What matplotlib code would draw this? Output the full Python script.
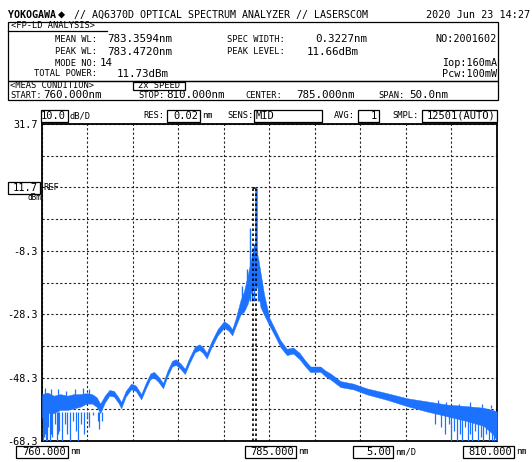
import matplotlib
matplotlib.use('Agg')
import matplotlib.pyplot as plt
from matplotlib.patches import Rectangle

# spectrum band (upper / lower edge of the trace, dBm)
wl = [760.0, 760.6, 761.3, 762.0, 762.8, 763.5, 764.2, 764.9, 765.5, 766.0,
      766.4, 766.9, 767.4, 767.9, 768.4, 768.7, 769.2, 769.8, 770.3, 770.9,
      771.4, 771.9, 772.3, 772.8, 773.3, 773.8, 774.3, 774.7, 775.2, 775.7,
      776.2, 776.8, 777.3, 777.7, 778.1, 778.6, 779.3, 780.0, 780.5, 780.9,
      781.3, 781.8, 782.2, 782.6, 782.9, 783.2, 783.47, 783.7, 784.0, 784.4,
      785.0, 785.6, 786.2, 786.9, 787.6, 788.3, 788.9, 789.5, 790.0, 790.6,
      791.1, 791.7, 792.8, 794.2, 795.7, 797.9, 800.1, 802.3, 804.5, 806.7,
      808.5, 809.5, 810.0]
lvl_hi = [-53.5, -53.0, -54.0, -53.5, -54.0, -53.5, -53.5, -53.2, -53.5, -54.5,
          -56.5, -54.0, -52.2, -52.5, -54.5, -56.0, -52.5, -50.2, -50.8, -53.5,
          -50.0, -47.0, -46.5, -48.0, -50.0, -46.0, -43.0, -42.5, -43.8, -45.5,
          -42.0, -38.5, -37.8, -38.8, -40.5, -37.0, -33.0, -30.5, -31.5, -33.0,
          -29.5, -24.0, -21.0, -16.0, -12.0, -8.0, -6.0, -10.0, -15.0, -22.0,
          -29.5, -33.0, -36.5, -39.2, -38.8, -40.5, -42.8, -44.8, -44.8, -44.8,
          -46.0, -47.0, -49.4, -50.2, -51.7, -53.2, -54.8, -55.8, -56.8, -57.3,
          -57.8, -58.5, -59.0]
lvl_lo = [-61.0, -59.5, -59.5, -58.5, -58.5, -58.0, -57.5, -56.5, -56.5, -57.5,
          -59.5, -56.2, -54.0, -54.3, -56.3, -58.0, -54.3, -52.0, -52.5, -55.2,
          -51.8, -48.8, -48.3, -49.7, -51.7, -47.8, -44.8, -44.3, -45.5, -47.2,
          -43.8, -40.3, -39.6, -40.6, -42.3, -38.9, -35.0, -32.6, -33.5, -35.0,
          -32.0, -28.5, -27.5, -25.0, -22.0, -20.0, -18.0, -20.0, -26.0, -28.5,
          -32.0, -35.2, -38.7, -41.2, -40.7, -42.5, -44.7, -46.6, -46.5, -46.5,
          -47.8, -48.9, -51.3, -52.0, -53.6, -55.3, -57.3, -59.0, -60.5, -62.0,
          -63.5, -66.0, -68.3]

# noise dips at both ends of the span
dip_wl = [760.1, 760.2, 760.3, 760.45, 760.6, 760.7, 760.85, 761.0, 761.1, 761.4,
          761.6, 761.75, 761.9, 762.2, 762.5, 762.8, 763.1, 763.4, 763.7, 764.0,
          764.3, 764.6, 764.9, 765.2, 765.6, 766.1, 766.3, 766.6,
          803.2, 803.8, 804.3, 804.7, 805.0, 805.3, 805.6, 805.9, 806.2, 806.5,
          806.8, 807.0, 807.3, 807.6, 807.9, 808.2, 808.5, 808.8, 809.1, 809.4,
          809.7]
dip_lvl = [-68.3, -67.0, -66.0, -68.3, -68.3, -64.0, -68.3, -66.0, -67.0, -63.0,
           -68.3, -66.0, -65.0, -68.3, -63.0, -66.0, -68.3, -62.0, -65.0, -68.3,
           -63.0, -66.0, -61.0, -64.0, -60.0, -62.0, -64.5, -62.0,
           -63.0, -64.0, -66.0, -63.0, -68.3, -65.0, -68.3, -66.0, -68.3, -64.0,
           -68.3, -66.0, -68.3, -65.0, -68.3, -67.0, -68.3, -66.0, -68.3, -68.3,
           -68.3]

# upward noise spikes at both ends
spike_wl = [760.3, 761.0, 761.8, 762.6, 763.6, 764.5, 765.2,
            803.5, 804.4, 805.8, 807.0, 808.3, 809.3]
spike_lvl = [-51.5, -52.0, -51.8, -52.5, -52.0, -51.5, -52.0,
             -55.5, -56.0, -56.5, -56.0, -56.5, -57.0]

# longitudinal modes around the main line
mode_wl = [781.95, 782.5, 782.86, 783.1, 783.3, 783.7, 783.9, 784.1]
mode_lvl = [-19.5, -14.0, -1.0, -9.0, -6.0, -11.0, -13.0, -17.5]

peak_wl = 783.4720
peak_lvl = 11.66
mean_wl = 783.3594
spec_width = 0.3227

x_start, x_stop = 760.0, 810.0
ref_lvl = 11.7
y_ticks = [31.7, 21.7, 11.7, 1.7, -8.3, -18.3, -28.3, -38.3, -48.3, -58.3, -68.3]
y_labeled = [31.7, -8.3, -28.3, -48.3, -68.3]

W, H = 532, 462
blue = '#1c72ff'
mono = 'DejaVu Sans Mono'

fig = plt.figure(figsize=(W / 100, H / 100), dpi=100)
fig.patch.set_facecolor('white')


def fx(x):
    return x / W


def fy(y):
    return 1 - y / H


def txt(x, y, s, size=7.5, ha='left', **kw):
    fig.text(fx(x), fy(y), s, ha=ha, va='center', fontsize=size, family=mono, **kw)


def box(x0, x1, y0, y1, lw=0.9):
    fig.add_artist(Rectangle((fx(x0), fy(y1)), fx(x1 - x0), (y1 - y0) / H,
                             transform=fig.transFigure, fill=False, ec='black', lw=lw))


def boxed(x0, x1, yc, s, size=7.5, h=12):
    box(x0, x1, yc - h / 2, yc + h / 2)
    txt(x1 - 2, yc + 0.5, s, size=size, ha='right')


# ---- header ----
txt(8, 15, 'YOKOGAWA', size=7.2, weight='bold')
txt(58, 15, '\u25c6', size=8.5)
txt(74, 15, '// AQ6370D OPTICAL SPECTRUM ANALYZER // LASERSCOM', size=7.2)
txt(530, 15, '2020 Jun 23 14:27', size=7.3, ha='right')

box(8, 498, 22, 81)
txt(11, 26, '<FP-LD ANALYSIS>', size=6.3)
fig.add_artist(plt.Line2D([fx(8), fx(107)], [fy(31), fy(31)], color='black', lw=0.9))
txt(97, 39, 'MEAN WL:', size=6.3, ha='right')
txt(107, 39, '783.3594nm', size=7.8)
txt(97, 52, 'PEAK WL:', size=6.3, ha='right')
txt(107, 52, '783.4720nm', size=7.8)
txt(97, 63, 'MODE NO:', size=6.3, ha='right')
txt(100, 63, '14', size=7.8)
txt(97, 74, 'TOTAL POWER:', size=6.3, ha='right')
txt(117, 74, '11.73dBm', size=7.8)
txt(227, 39, 'SPEC WIDTH:', size=6.3)
txt(315, 39, '0.3227nm', size=7.8)
txt(227, 52, 'PEAK LEVEL:', size=6.3)
txt(307, 52, '11.66dBm', size=7.8)
txt(497, 39, 'NO:2001602', size=7.3, ha='right')
txt(497, 63, 'Iop:160mA', size=7.3, ha='right')
txt(497, 74, 'Pcw:100mW', size=7.3, ha='right')

box(8, 498, 81, 100)
txt(10, 86, '<MEAS CONDITION>', size=6.3)
box(133, 185, 82, 90)
txt(159, 86, '2x SPEED', size=6.3, ha='center')
txt(10, 95, 'START:', size=6.3)
txt(43, 95, '760.000nm', size=7.8)
txt(138, 95, 'STOP:', size=6.3)
txt(166, 95, '810.000nm', size=7.8)
txt(245, 95, 'CENTER:', size=6.3)
txt(296, 95, '785.000nm', size=7.8)
txt(378, 95, 'SPAN:', size=6.3)
txt(409, 95, '50.0nm', size=7.8)

# settings row
boxed(41, 68, 115.5, '10.0')
txt(69, 116, 'dB/D', size=6.3)
txt(143, 116, 'RES:', size=6.3)
boxed(167, 200, 115.5, '0.02')
txt(202, 116, 'nm', size=6.3)
txt(227, 116, 'SENS:', size=6.3)
box(254, 322, 109.5, 121.5)
txt(256, 116, 'MID', size=7.5)
txt(334, 116, 'AVG:', size=6.3)
boxed(358, 379, 115.5, '1')
txt(392, 116, 'SMPL:', size=6.3)
boxed(422, 497, 115.5, '12501(AUTO)')

# ---- trace area ----
ax = fig.add_axes([fx(42), fy(441), fx(497 - 42), (441 - 124) / H])
ax.set_xlim(x_start, x_stop)
ax.set_ylim(y_ticks[-1], y_ticks[0])
ax.set_xticks([x_start + 5 * i for i in range(11)])
ax.set_yticks(y_ticks)
ax.set_xticklabels([])
ax.set_yticklabels([f'{v:.1f}' if v in y_labeled else '' for v in y_ticks],
                   family=mono, fontsize=7.3)
ax.tick_params(length=0, pad=3)
ax.grid(True, color='#222222', linestyle=(0, (2, 2)), lw=0.8)
for sp in ax.spines.values():
    sp.set_linewidth(1.3)

ax.fill_between(wl, lvl_lo, lvl_hi, color=blue, lw=0.3, zorder=3)
ax.vlines(dip_wl, [-59] * len(dip_wl), dip_lvl, color=blue, lw=0.9, zorder=3)
ax.vlines(spike_wl, [-55] * 7 + [-58] * 6, spike_lvl, color=blue, lw=0.9, zorder=3)
ax.vlines(mode_wl, [-24] * len(mode_wl), mode_lvl, color=blue, lw=1.0, zorder=3)
ax.vlines([peak_wl], [-20], [peak_lvl], color=blue, lw=1.8, zorder=3)

# spectral width markers
m_lo = mean_wl - spec_width / 2
m_hi = mean_wl + spec_width / 2
ax.vlines([m_lo, m_hi], y_ticks[-1], peak_lvl, color='black', lw=1.2,
          linestyles=(0, (1.5, 1.5)), zorder=4)
ax.hlines([peak_lvl], m_lo, m_hi, color='black', lw=1.2,
          linestyles=(0, (1.5, 1.5)), zorder=4)

ax.text(0.003, ref_lvl, 'REF', transform=ax.get_yaxis_transform(), va='center',
        fontsize=6.3, family=mono, zorder=5)

# reference level box on the left
boxed(8, 40, 188, f'{ref_lvl:.1f}')
txt(41, 198, 'dBm', size=5.5, ha='right')

# x scale boxes
boxed(16, 68, 451.5, f'{x_start:.3f}')
txt(70, 452, 'nm', size=6.3)
boxed(245, 296, 451.5, f'{(x_start + x_stop) / 2:.3f}')
txt(298, 452, 'nm', size=6.3)
boxed(353, 393, 451.5, '5.00')
txt(395, 452, 'nm/D', size=6.3)
boxed(463, 514, 451.5, f'{x_stop:.3f}')
txt(516, 452, 'nm', size=6.3)

fig.savefig('out.png', dpi=100)
